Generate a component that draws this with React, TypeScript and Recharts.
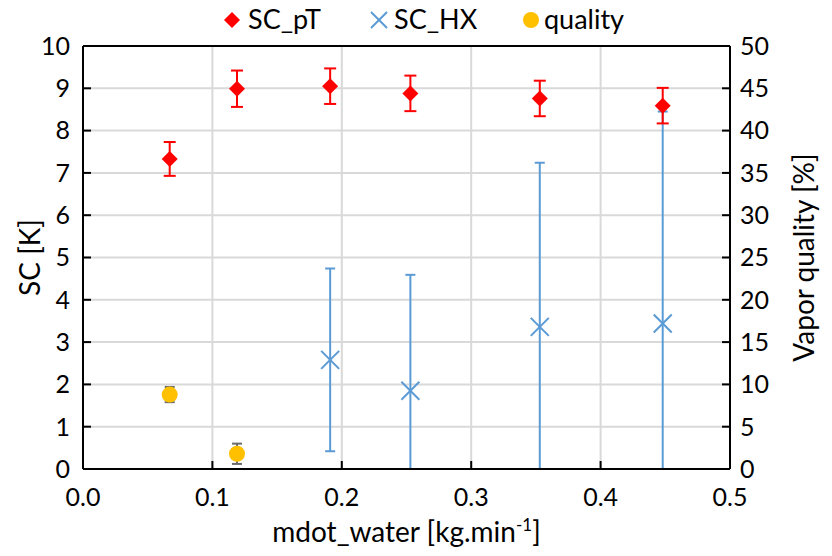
import React from "react";
import {
  ScatterChart,
  Scatter,
  XAxis,
  YAxis,
  CartesianGrid,
  ErrorBar,
  ReferenceLine,
  Label,
} from "recharts";

const FONT = "Lato, 'Open Sans', sans-serif";

// SC_pT (red diamonds), left axis
const pTFlow = [0.067, 0.119, 0.191, 0.253, 0.353, 0.448];
const pTValues = [7.33, 8.99, 9.05, 8.88, 8.76, 8.59];
const pTErr = [0.4, 0.43, 0.42, 0.42, 0.42, 0.42];

// SC_HX (blue crosses), left axis
const hxFlow = [0.191, 0.253, 0.353, 0.448];
const hxValues = [2.58, 1.85, 3.36, 3.44];
const hxErr = [2.16, 2.74, 3.88, 5.01];

// quality (yellow dots), right axis, %
const qFlow = [0.067, 0.119];
const qValues = [8.8, 1.8];
const qErr = [0.9, 1.2];

const xTicks = [0, 0.1, 0.2, 0.3, 0.4, 0.5];
const scTicks = [0, 1, 2, 3, 4, 5, 6, 7, 8, 9, 10];
const qualityTicks = [0, 5, 10, 15, 20, 25, 30, 35, 40, 45, 50];

const RED = "#ff0000";
const BLUE = "#5b9bd5";
const YELLOW = "#ffc000";
const GREY = "#6b6b6b";

// clip the lower error so bars stop at the axis like in Excel
const build = (xs: number[], ys: number[], es: number[]) =>
  xs.map((x, i) => ({ x, y: ys[i], err: [Math.min(ys[i], es[i]), es[i]] }));

const pTData = build(pTFlow, pTValues, pTErr);
const hxData = build(hxFlow, hxValues, hxErr);
const qData = build(qFlow, qValues, qErr);

const Diamond = (props: any) => {
  const { cx, cy } = props;
  const r = 8;
  return (
    <path
      d={`M${cx},${cy - r}L${cx + r},${cy}L${cx},${cy + r}L${cx - r},${cy}Z`}
      fill={RED}
    />
  );
};

const Cross = (props: any) => {
  const { cx, cy } = props;
  const r = 9;
  return (
    <g stroke={BLUE} strokeWidth={2}>
      <line x1={cx - r} y1={cy - r} x2={cx + r} y2={cy + r} />
      <line x1={cx - r} y1={cy + r} x2={cx + r} y2={cy - r} />
    </g>
  );
};

const Dot = (props: any) => {
  const { cx, cy } = props;
  return <circle cx={cx} cy={cy} r={8} fill={YELLOW} />;
};

const tickStyle = { fill: "#000", fontSize: 25, fontFamily: FONT };

const Legend = () => (
  <svg
    width={832}
    height={40}
    style={{ position: "absolute", left: 0, top: 0 }}
    fontFamily={FONT}
    fontSize={27}
  >
    <path d="M232,12L240,20L232,28L224,20Z" fill={RED} />
    <text x={248} y={29} fill="#000">SC_pT</text>
    <g stroke={BLUE} strokeWidth={2}>
      <line x1={371} y1={12} x2={387} y2={28} />
      <line x1={371} y1={28} x2={387} y2={12} />
    </g>
    <text x={394} y={29} fill="#000">SC_HX</text>
    <circle cx={531} cy={20} r={8} fill={YELLOW} />
    <text x={544} y={29} fill="#000">quality</text>
  </svg>
);

export default function App() {
  return (
    <div
      style={{
        position: "absolute",
        left: 0,
        top: 0,
        width: 832,
        height: 556,
        background: "#fff",
        fontFamily: FONT,
      }}
    >
      <ScatterChart
        width={832}
        height={556}
        margin={{ top: 46, right: 0, bottom: 0, left: 0 }}
      >
        <CartesianGrid
          yAxisId="left"
          stroke="#d9d9d9"
          strokeWidth={2}
          horizontalValues={scTicks}
          verticalValues={xTicks}
        />
        <XAxis
          type="number"
          dataKey="x"
          domain={[0, 0.5]}
          ticks={xTicks}
          tickFormatter={(v: number) => v.toFixed(1)}
          height={87}
          tick={tickStyle}
          tickSize={-8}
          tickMargin={27}
          axisLine={{ stroke: "#000", strokeWidth: 2 }}
          tickLine={{ stroke: "#000", strokeWidth: 2 }}
          interval={0}
        >
          <Label
            content={(p: any) => {
              const vb = p.viewBox;
              return (
                <text
                  x={vb.x + vb.width / 2}
                  y={vb.y + 73}
                  textAnchor="middle"
                  fontSize={28}
                  fontFamily={FONT}
                  fill="#000"
                >
                  mdot_water [kg.min
                  <tspan fontSize={17} dy={-11}>-1</tspan>
                  <tspan dy={11}>]</tspan>
                </text>
              );
            }}
          />
        </XAxis>
        <YAxis
          yAxisId="left"
          type="number"
          dataKey="y"
          domain={[0, 10]}
          ticks={scTicks}
          width={83}
          tick={tickStyle}
          tickSize={-8}
          tickMargin={21}
          axisLine={{ stroke: "#000", strokeWidth: 2 }}
          tickLine={{ stroke: "#000", strokeWidth: 2 }}
          interval={0}
        >
          <Label
            content={(p: any) => {
              const vb = p.viewBox;
              const cx = 29;
              const cy = vb.y + vb.height / 2;
              return (
                <text
                  x={cx}
                  y={cy}
                  transform={`rotate(-90 ${cx} ${cy})`}
                  textAnchor="middle"
                  dominantBaseline="central"
                  fontSize={28}
                  fontFamily={FONT}
                  fill="#000"
                >
                  SC [K]
                </text>
              );
            }}
          />
        </YAxis>
        <YAxis
          yAxisId="right"
          orientation="right"
          type="number"
          dataKey="y"
          domain={[0, 50]}
          ticks={qualityTicks}
          width={102}
          tick={tickStyle}
          tickSize={-8}
          tickMargin={18}
          axisLine={{ stroke: "#000", strokeWidth: 2 }}
          tickLine={{ stroke: "#000", strokeWidth: 2 }}
          interval={0}
        >
          <Label
            content={(p: any) => {
              const vb = p.viewBox;
              const cx = 803;
              const cy = vb.y + vb.height / 2;
              return (
                <text
                  x={cx}
                  y={cy}
                  transform={`rotate(-90 ${cx} ${cy})`}
                  textAnchor="middle"
                  dominantBaseline="central"
                  fontSize={28}
                  fontFamily={FONT}
                  fill="#000"
                >
                  Vapor quality [%]
                </text>
              );
            }}
          />
        </YAxis>
        <ReferenceLine yAxisId="left" y={10} stroke="#000" strokeWidth={2} />
        <Scatter
          name="SC_HX"
          data={hxData}
          yAxisId="left"
          shape={Cross}
          isAnimationActive={false}
        >
          <ErrorBar
            dataKey="err"
            direction="y"
            width={5}
            stroke={BLUE}
            strokeWidth={2}
            isAnimationActive={false}
          />
        </Scatter>
        <Scatter
          name="SC_pT"
          data={pTData}
          yAxisId="left"
          shape={Diamond}
          isAnimationActive={false}
        >
          <ErrorBar
            dataKey="err"
            direction="y"
            width={6}
            stroke={RED}
            strokeWidth={2}
            isAnimationActive={false}
          />
        </Scatter>
        <Scatter
          name="quality"
          data={qData}
          yAxisId="right"
          shape={Dot}
          isAnimationActive={false}
        >
          <ErrorBar
            dataKey="err"
            direction="y"
            width={5}
            stroke={GREY}
            strokeWidth={2}
            isAnimationActive={false}
          />
        </Scatter>
      </ScatterChart>
      <Legend />
    </div>
  );
}
